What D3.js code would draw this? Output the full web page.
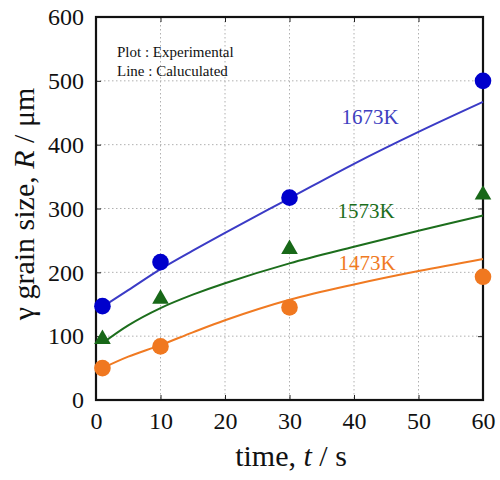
<!DOCTYPE html>
<html><head><meta charset="utf-8">
<script src="https://cdn.jsdelivr.net/npm/d3@7"></script>
<style>body{margin:0;background:#fff}svg{display:block}
svg text{font-family:"Liberation Serif","Times New Roman",serif !important}</style>
</head><body>
<svg id="c" width="500" height="480"></svg>
<script>
// Data
const expTimes = [1, 10, 30, 60];
const exp1673 = [147, 216, 317, 500];
const exp1573 = [97, 160, 238, 323];
const exp1473 = [50, 84, 145, 193];
const calcTimes = [1, 5, 10, 15, 20, 30, 40, 50, 60];
const calc1673 = [146, 172, 205, 234, 262, 316, 370, 420, 467];
const calc1573 = [89, 117, 144, 165, 183, 214, 240, 265, 289];
const calc1473 = [50, 68, 86, 106, 125, 157, 181, 202, 221];
const xTicks = [0, 10, 20, 30, 40, 50, 60];
const yTicks = [0, 100, 200, 300, 400, 500, 600];
const seriesNames = ["1673K", "1573K", "1473K"];

const svg = d3.select("#c");
const L = 96, R = 483, T = 17, B = 400;
const x = d3.scaleLinear().domain([0, 60]).range([L, R]);
const y = d3.scaleLinear().domain([0, 600]).range([B, T]);
const serif = '"Liberation Serif","Times New Roman",serif';

// grid
const g = svg.append("g");
g.selectAll("line.vx").data(xTicks.slice(1, -1)).enter().append("line")
  .attr("x1", d => x(d)).attr("x2", d => x(d)).attr("y1", T).attr("y2", B)
  .attr("stroke", "#b0b0b0").attr("stroke-width", 1).attr("stroke-dasharray", "1.5,2.5");
g.selectAll("line.hy").data(yTicks.slice(1, -1)).enter().append("line")
  .attr("y1", d => y(d)).attr("y2", d => y(d)).attr("x1", L).attr("x2", R)
  .attr("stroke", "#b0b0b0").attr("stroke-width", 1).attr("stroke-dasharray", "1.5,2.5");

// axes (inward ticks)
const axB = svg.append("g").attr("transform", `translate(0,${B})`)
  .call(d3.axisBottom(x).tickValues(xTicks).tickSize(-5).tickPadding(12));
const axL = svg.append("g").attr("transform", `translate(${L},0)`)
  .call(d3.axisLeft(y).tickValues(yTicks).tickSize(-5).tickPadding(12));
svg.append("g").attr("transform", `translate(0,${T})`)
  .call(d3.axisTop(x).tickValues(xTicks).tickSize(-5).tickFormat(""));
svg.append("g").attr("transform", `translate(${R},0)`)
  .call(d3.axisRight(y).tickValues(yTicks).tickSize(-5).tickFormat(""));
[axB, axL].forEach(a => a.attr("font-family", serif).attr("font-size", 24));
svg.selectAll(".domain").remove();
svg.selectAll(".tick line").attr("stroke", "#222");
svg.selectAll(".tick text").attr("font-family", serif).attr("font-size", 24).attr("fill", "#111");

// frame
svg.append("rect").attr("x", L).attr("y", T).attr("width", R - L).attr("height", B - T)
  .attr("fill", "none").attr("stroke", "#111").attr("stroke-width", 2.2);

// lines
const line = d3.line().x(d => x(d[0])).y(d => y(d[1])).curve(d3.curveCatmullRom);
const lineCols = ["#3b3bc6", "#1c6e1c", "#f07a22"];
[calc1673, calc1573, calc1473].forEach((arr, i) => {
  svg.append("path").datum(calcTimes.map((t, j) => [t, arr[j]]))
    .attr("d", line).attr("fill", "none").attr("stroke", lineCols[i]).attr("stroke-width", 2);
});

// markers
const markCols = ["#0000cc", "#186818", "#f07820"];
svg.selectAll("circle.b").data(expTimes.map((t, j) => [t, exp1673[j]])).enter().append("circle")
  .attr("cx", d => x(d[0])).attr("cy", d => y(d[1])).attr("r", 8.3).attr("fill", markCols[0]);
svg.selectAll("circle.o").data(expTimes.map((t, j) => [t, exp1473[j]])).enter().append("circle")
  .attr("cx", d => x(d[0])).attr("cy", d => y(d[1])).attr("r", 8.3).attr("fill", markCols[2]);
const tri = d3.symbol().type(d3.symbolTriangle).size(120);
svg.selectAll("path.g").data(expTimes.map((t, j) => [t, exp1573[j]])).enter().append("path")
  .attr("d", tri).attr("transform", d => `translate(${x(d[0])},${y(d[1]) + 1})`).attr("fill", markCols[1]);

// series labels
const labelCols = ["#4040c0", "#1c6e1c", "#f07a22"];
const labelPos = [[370, 124], [366, 218], [367, 270]];
seriesNames.forEach((n, i) => {
  svg.append("text").attr("x", labelPos[i][0]).attr("y", labelPos[i][1]).attr("text-anchor", "middle")
    .attr("font-size", 21).attr("fill", labelCols[i]).text(n);
});

// legend note
svg.append("text").attr("x", 117).attr("y", 57).attr("font-size", 15).attr("fill", "#111").text("Plot : Experimental");
svg.append("text").attr("x", 117).attr("y", 76).attr("font-size", 15).attr("fill", "#111").text("Line : Caluculated");

// axis titles
const xt = svg.append("text").attr("x", 291).attr("y", 466).attr("text-anchor", "middle")
  .attr("font-size", 30).attr("fill", "#111");
xt.append("tspan").text("time, ");
xt.append("tspan").attr("font-style", "italic").text("t");
xt.append("tspan").text(" / s");

const yt = svg.append("text").attr("transform", `translate(34,204) rotate(-90)`).attr("text-anchor", "middle")
  .attr("font-size", 30).attr("fill", "#111");
yt.append("tspan").text("γ grain size, ");
yt.append("tspan").attr("font-style", "italic").text("R");
yt.append("tspan").text(" / μm");
</script>
</body></html>
